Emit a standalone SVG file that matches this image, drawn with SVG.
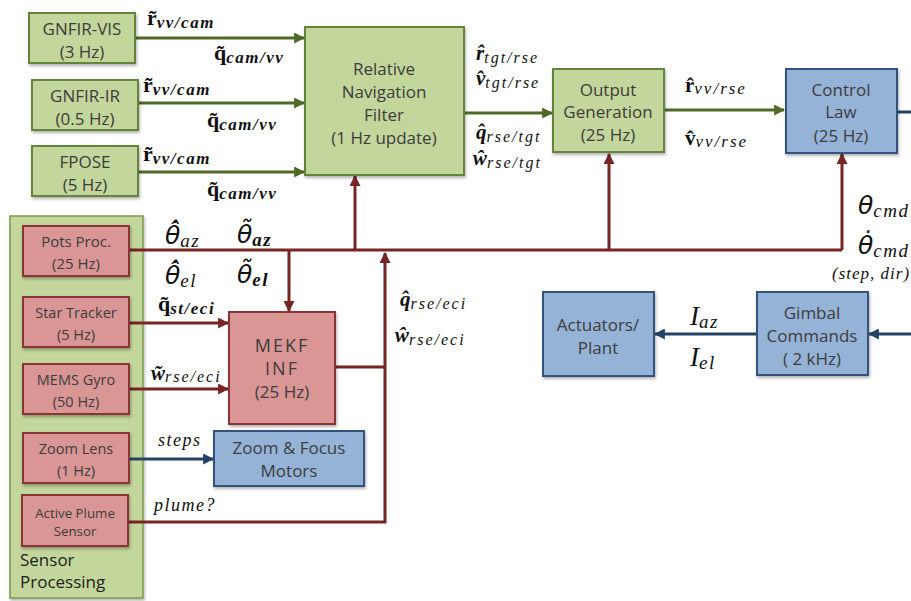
<svg xmlns="http://www.w3.org/2000/svg" width="911" height="601" viewBox="0 0 911 601">
<defs>
<filter id="sh" x="-10%" y="-10%" width="130%" height="130%"><feDropShadow dx="1" dy="2" stdDeviation="1.5" flood-color="#000" flood-opacity="0.3"/></filter>
<marker id="ag" viewBox="0 0 10 10" refX="9" refY="5" markerWidth="11" markerHeight="11" markerUnits="userSpaceOnUse" orient="auto"><path d="M0,0 L10,5 L0,10 z" fill="#4f6a25"/></marker>
<marker id="ar" viewBox="0 0 10 10" refX="9" refY="5" markerWidth="11" markerHeight="11" markerUnits="userSpaceOnUse" orient="auto"><path d="M0,0 L10,5 L0,10 z" fill="#762424"/></marker>
<marker id="ab" viewBox="0 0 10 10" refX="9" refY="5" markerWidth="11" markerHeight="11" markerUnits="userSpaceOnUse" orient="auto"><path d="M0,0 L10,5 L0,10 z" fill="#244268"/></marker>
</defs>
<style>
.g{fill:#c3d69b;stroke:#65843a;stroke-width:2;filter:url(#sh)}
.r{fill:#d99694;stroke:#8a3535;stroke-width:2;filter:url(#sh)}
.b{fill:#95b3d7;stroke:#33527d;stroke-width:2;filter:url(#sh)}
.grp{fill:#c3d69b;stroke:#7c9a4c;stroke-width:1.5;filter:url(#sh)}
.t{font-family:"Open Sans","Liberation Sans",sans-serif;fill:#3c3c3c;text-anchor:middle}
.t17{font-size:17px}.t15{font-size:15px}.t14{font-size:14.5px}.t13{font-size:13.3px}
.lg{stroke:#4f6a25;stroke-width:3;fill:none}
.lr{stroke:#762424;stroke-width:3;fill:none}
.lb{stroke:#244268;stroke-width:3;fill:none}
.m{font-family:"Liberation Serif","DejaVu Serif",serif;fill:#111;font-style:italic}
.s{letter-spacing:1.5px}
.bu{font-weight:bold;font-style:normal}
.bi{font-weight:bold;font-style:italic}
.th{font-family:"DejaVu Sans",sans-serif;font-style:italic;font-weight:normal}
</style>

<g id="sensor-processing"><rect class="grp" x="10" y="216" width="133" height="382"/>
<text class="t" x="20" y="566" style="text-anchor:start;font-size:17px;fill:#222">Sensor</text>
<text class="t" x="20" y="588" style="text-anchor:start;font-size:17px;fill:#222">Processing</text></g>

<g id="connectors">
<path class="lg" d="M135,38 H304" marker-end="url(#ag)"/>
<path class="lg" d="M138,103 H304" marker-end="url(#ag)"/>
<path class="lg" d="M138,172 H304" marker-end="url(#ag)"/>
<path class="lg" d="M464,113 H552" marker-end="url(#ag)"/>
<path class="lg" d="M664,110 H784" marker-end="url(#ag)"/>
<path class="lb" d="M897,112 H911"/>
<path class="lr" d="M128,250 H842"/>
<path class="lr" d="M355,250 V176" marker-end="url(#ar)"/>
<path class="lr" d="M609,250 V154" marker-end="url(#ar)"/>
<path class="lr" d="M842,250 V154" marker-end="url(#ar)"/>
<path class="lr" d="M289,250 V311" marker-end="url(#ar)"/>
<path class="lr" d="M129,323 H228" marker-end="url(#ar)"/>
<path class="lr" d="M129,389 H228" marker-end="url(#ar)"/>
<path class="lr" d="M335,367 H385"/>
<path class="lr" d="M129,522 H385 V253" marker-end="url(#ar)"/>
<path class="lb" d="M129,459 H213" marker-end="url(#ab)"/>
<path class="lb" d="M911,334 H869" marker-end="url(#ab)"/>
<path class="lb" d="M757,334 H655" marker-end="url(#ab)"/>
</g>

<g id="gnfir-vis"><rect class="g" x="29" y="13" width="106" height="50"/>
<text class="t t17" x="82" y="35">GNFIR-VIS</text><text class="t t17" x="82" y="58">(3 Hz)</text></g>
<g id="gnfir-ir"><rect class="g" x="32" y="80" width="106" height="50"/>
<text class="t t17" x="85" y="102">GNFIR-IR</text><text class="t t17" x="85" y="125">(0.5 Hz)</text></g>
<g id="fpose"><rect class="g" x="32" y="146" width="106" height="50"/>
<text class="t t17" x="85" y="168">FPOSE</text><text class="t t17" x="85" y="191">(5 Hz)</text></g>
<g id="rnf"><rect class="g" x="305" y="27" width="159" height="148"/>
<text class="t t17" x="384" y="75">Relative</text><text class="t t17" x="384" y="98">Navigation</text>
<text class="t t17" x="384" y="121">Filter</text><text class="t t17" x="384" y="144">(1 Hz update)</text></g>
<g id="output-generation"><rect class="g" x="553" y="69" width="111" height="83"/>
<text class="t t17" x="608" y="96">Output</text><text class="t t17" x="608" y="118">Generation</text><text class="t t17" x="608" y="141">(25 Hz)</text></g>
<g id="control-law"><rect class="b" x="786" y="69" width="111" height="84"/>
<text class="t t17" x="841" y="96">Control</text><text class="t t17" x="841" y="118">Law</text><text class="t t17" x="841" y="142">(25 Hz)</text></g>

<g id="pots-proc"><rect class="r" x="23" y="226" width="106" height="50"/>
<text class="t t15" x="76" y="247">Pots Proc.</text><text class="t t15" x="76" y="269">(25 Hz)</text></g>
<g id="star-tracker"><rect class="r" x="23" y="297" width="106" height="50"/>
<text class="t t14" x="76" y="318">Star Tracker</text><text class="t t14" x="76" y="340">(5 Hz)</text></g>
<g id="mems-gyro"><rect class="r" x="23" y="364" width="106" height="50"/>
<text class="t t14" x="76" y="385">MEMS Gyro</text><text class="t t14" x="76" y="407">(50 Hz)</text></g>
<g id="zoom-lens"><rect class="r" x="23" y="433" width="106" height="50"/>
<text class="t t14" x="76" y="454">Zoom Lens</text><text class="t t14" x="76" y="476">(1 Hz)</text></g>
<g id="active-plume"><rect class="r" x="22" y="495" width="106" height="51"/>
<text class="t t13" x="75" y="518">Active Plume</text><text class="t t13" x="75" y="536">Sensor</text></g>
<g id="mekf"><rect class="r" x="229" y="312" width="106" height="112"/>
<text class="t" x="282" y="352" style="font-size:18px;letter-spacing:2px">MEKF</text><text class="t" x="282" y="375" style="font-size:18px;letter-spacing:2px">INF</text><text class="t t17" x="282" y="398">(25 Hz)</text></g>
<g id="zoom-focus"><rect class="b" x="214" y="431" width="150" height="55"/>
<text class="t t17" x="289" y="454">Zoom &amp; Focus</text><text class="t t17" x="289" y="477">Motors</text></g>
<g id="actuators"><rect class="b" x="543" y="292" width="111" height="84"/>
<text class="t t17" x="598" y="331">Actuators/</text><text class="t t17" x="598" y="354">Plant</text></g>
<g id="gimbal"><rect class="b" x="757" y="292" width="111" height="83"/>
<text class="t t17" x="812" y="319">Gimbal</text><text class="t t17" x="812" y="342">Commands</text><text class="t t17" x="812" y="365">( 2 kHz)</text></g>

<g id="labels">
<text class="m" x="147" y="25" font-size="22"><tspan class="bu">r̃</tspan><tspan class="bi s" font-size="17" dy="3">vv/cam</tspan></text>
<text class="m" x="214" y="60" font-size="22"><tspan class="bu">q̃</tspan><tspan class="bi s" font-size="17" dy="3">cam/vv</tspan></text>
<text class="m" x="143" y="92" font-size="22"><tspan class="bu">r̃</tspan><tspan class="bi s" font-size="17" dy="3">vv/cam</tspan></text>
<text class="m" x="207" y="127" font-size="22"><tspan class="bu">q̃</tspan><tspan class="bi s" font-size="17" dy="3">cam/vv</tspan></text>
<text class="m" x="143" y="161" font-size="22"><tspan class="bu">r̃</tspan><tspan class="bi s" font-size="17" dy="3">vv/cam</tspan></text>
<text class="m" x="207" y="196" font-size="22"><tspan class="bu">q̃</tspan><tspan class="bi s" font-size="17" dy="3">cam/vv</tspan></text>

<text class="m" x="476" y="60" font-size="21"><tspan class="bi">r̂</tspan><tspan font-size="16" dy="3" style="letter-spacing:2px">tgt/rse</tspan></text>
<text class="m" x="476" y="85" font-size="21"><tspan class="bi">v̂</tspan><tspan font-size="16" dy="3" style="letter-spacing:2px">tgt/rse</tspan></text>
<text class="m" x="476" y="139" font-size="21"><tspan class="bi">q̂</tspan><tspan font-size="16" dy="3" style="letter-spacing:2px">rse/tgt</tspan></text>
<text class="m" x="473" y="165" font-size="21"><tspan class="bi">ŵ</tspan><tspan font-size="16" dy="3" style="letter-spacing:2px">rse/tgt</tspan></text>

<text class="m" x="685" y="92" font-size="21"><tspan class="bu">r̂</tspan><tspan font-size="17" dy="2" style="letter-spacing:2px">vv/rse</tspan></text>
<text class="m" x="685" y="145" font-size="21"><tspan class="bu">v̂</tspan><tspan font-size="17" dy="2" style="letter-spacing:2px">vv/rse</tspan></text>

<text class="m" x="858" y="214" font-size="25"><tspan class="th">θ</tspan><tspan font-size="19" dy="3" class="s">cmd</tspan></text>
<text class="m" x="858" y="254" font-size="25"><tspan class="th">θ̇</tspan><tspan font-size="19" dy="3" class="s">cmd</tspan></text>
<text class="m" x="832" y="279" font-size="17" style="letter-spacing:1px">(step, dir)</text>

<text class="m" x="690" y="325" font-size="27"><tspan>I</tspan><tspan font-size="19" dy="3" class="s">az</tspan></text>
<text class="m" x="690" y="366" font-size="27"><tspan>I</tspan><tspan font-size="19" dy="3" class="s">el</tspan></text>

<text class="m" x="165" y="244" font-size="25"><tspan class="th">θ̇̂</tspan><tspan font-size="19" dy="3" class="s">az</tspan></text>
<text class="m" x="237" y="243" font-size="25"><tspan class="th">θ̃</tspan><tspan class="bi s" font-size="19" dy="3">az</tspan></text>
<text class="m" x="165" y="284" font-size="25"><tspan class="th">θ̇̂</tspan><tspan font-size="19" dy="3" class="s">el</tspan></text>
<text class="m" x="237" y="283" font-size="25"><tspan class="th">θ̃</tspan><tspan class="bi s" font-size="19" dy="3">el</tspan></text>

<text class="m" x="158" y="311" font-size="22"><tspan class="bu">q̃</tspan><tspan class="bi s" font-size="17" dy="3">st/eci</tspan></text>
<text class="m" x="151" y="380" font-size="21"><tspan class="bi">w̃</tspan><tspan font-size="16" dy="2" style="letter-spacing:2px">rse/eci</tspan></text>

<text class="m" x="400" y="306" font-size="21"><tspan class="bi">q̂</tspan><tspan font-size="16" dy="3" style="letter-spacing:2px">rse/eci</tspan></text>
<text class="m" x="395" y="342" font-size="21"><tspan class="bi">ŵ</tspan><tspan font-size="16" dy="3" style="letter-spacing:2px">rse/eci</tspan></text>

<text class="m" x="158" y="446" font-size="18" style="letter-spacing:1.5px">steps</text>
<text class="m" x="154" y="511" font-size="18" style="letter-spacing:1.5px">plume?</text>
</g>
</svg>
